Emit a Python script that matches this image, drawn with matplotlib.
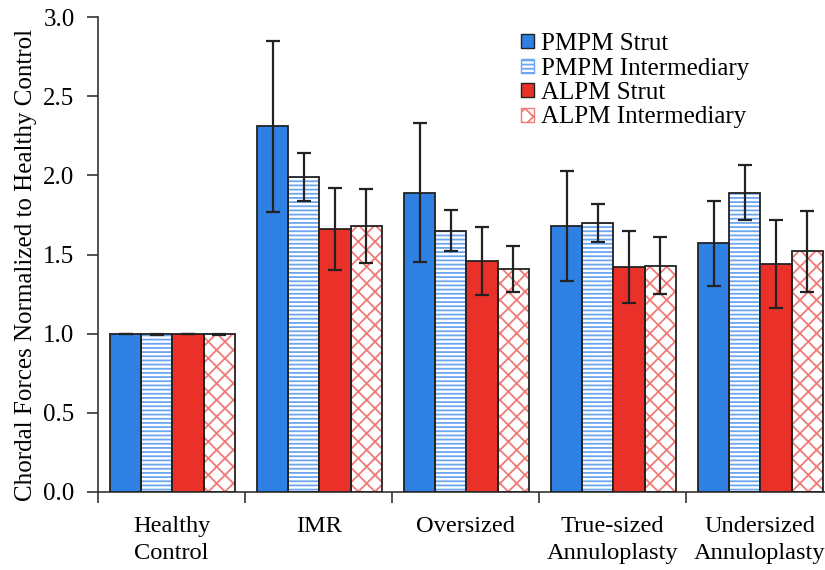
import matplotlib
matplotlib.use("Agg")
import matplotlib.pyplot as plt
import matplotlib.patches as mpatches
import numpy as np

categories = ["Healthy\nControl", "IMR", "Oversized", "True-sized\nAnnuloplasty", "Undersized\nAnnuloplasty"]
series_names = ["PMPM Strut", "PMPM Intermediary", "ALPM Strut", "ALPM Intermediary"]
pmpm_strut = [1.00, 2.31, 1.89, 1.68, 1.57]
pmpm_strut_err = [0.0, 0.54, 0.44, 0.35, 0.27]
pmpm_inter = [0.995, 1.99, 1.65, 1.70, 1.89]
pmpm_inter_err = [0.005, 0.15, 0.13, 0.12, 0.175]
alpm_strut = [1.00, 1.66, 1.46, 1.42, 1.44]
alpm_strut_err = [0.0, 0.26, 0.215, 0.227, 0.28]
alpm_inter = [0.995, 1.68, 1.41, 1.43, 1.52]
alpm_inter_err = [0.005, 0.235, 0.145, 0.18, 0.257]

plt.rcParams['font.family'] = ['Liberation Serif', 'DejaVu Serif']
plt.rcParams['hatch.linewidth'] = 1.3
FS = 18

fig = plt.figure(figsize=(8.25, 5.7), dpi=100)
ax = fig.add_axes([0.119, 0.137, 0.891, 0.833])

values = [pmpm_strut, pmpm_inter, alpm_strut, alpm_inter]
errs = [pmpm_strut_err, pmpm_inter_err, alpm_strut_err, alpm_inter_err]
faces = ["#2f80e3", "white", "#e93029", "white"]
hatches = [None, "----", None, "xx"]
hcolors = [None, "#6aa6ef", None, "#f07a76"]

x = np.arange(len(categories))
w = 0.2125
start = 0.08
handles = []
for k in range(4):
    pos = x + start + w * (k + 0.5)
    if hatches[k]:
        ax.bar(pos, values[k], width=w, color=faces[k], edgecolor=hcolors[k],
               hatch=hatches[k], linewidth=0, zorder=2)
        ax.bar(pos, values[k], width=w, fill=False, edgecolor="#222222",
               linewidth=1.3, zorder=3)
    else:
        ax.bar(pos, values[k], width=w, color=faces[k], edgecolor="#222222",
               linewidth=1.3, zorder=3)
    ax.errorbar(pos, values[k], yerr=errs[k], fmt="none", ecolor="#222222",
                elinewidth=1.6, capsize=5, capthick=1.6, zorder=4)
    handles.append(mpatches.Patch(facecolor=faces[k], edgecolor=hcolors[k] if hatches[k] else "#222222",
                                  hatch=hatches[k], linewidth=1.0))

ax.set_xlim(0, 5)
ax.set_ylim(0, 3.0)
ax.set_yticks(np.arange(0, 3.01, 0.5))
ax.set_yticklabels([f"{v:.1f}" for v in np.arange(0, 3.01, 0.5)], fontsize=FS)
ax.set_xticks(x + 0.5)
ax.set_xticklabels(categories, fontsize=17.6, linespacing=1.42)
ax.set_xticks(np.arange(0, 6), minor=True)
ax.tick_params(axis='x', which='major', length=0, pad=17)
ax.tick_params(axis='x', which='minor', length=8, width=1.2, color="#333333")
ax.tick_params(axis='y', length=8, width=1.2, color="#333333", pad=9)
fig.text(26 / 825, 1 - 265 / 570, "Chordal Forces Normalized to Healthy Control",
         fontsize=FS, rotation=90, ha="center", va="center")
for s in ["top", "right"]:
    ax.spines[s].set_visible(False)
for s in ["left", "bottom"]:
    ax.spines[s].set_linewidth(1.2)
    ax.spines[s].set_color("#333333")

leg = ax.legend(handles, series_names, loc="upper left", bbox_to_anchor=(521 / 825, 1 - 33 / 570),
                bbox_transform=fig.transFigure, frameon=False, fontsize=FS,
                handlelength=0.5, handleheight=0.5, handletextpad=0.3, labelspacing=0.1,
                borderaxespad=0, borderpad=0)

fig.savefig("out.png", dpi=100)
